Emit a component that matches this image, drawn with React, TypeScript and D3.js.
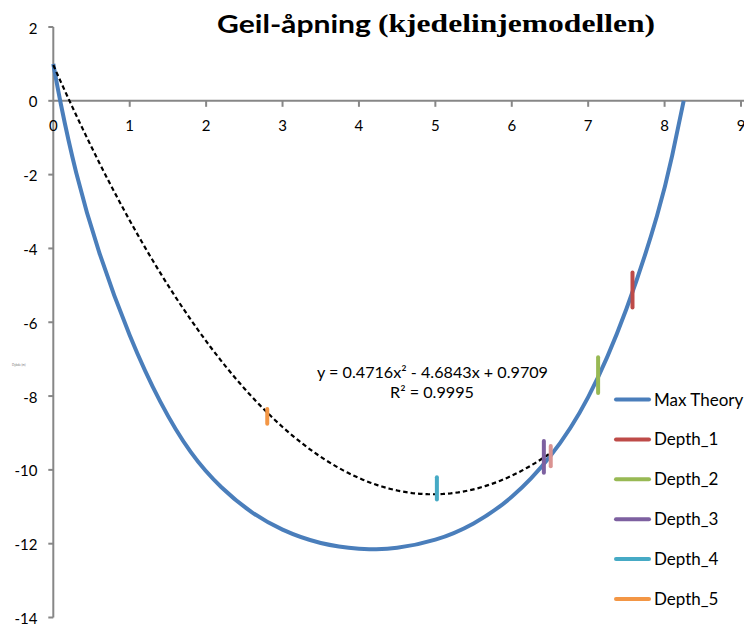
import React from "react";
import * as d3 from "d3";

// ---- data ----
const xTicks = [0, 1, 2, 3, 4, 5, 6, 7, 8, 9];
const yTicks = [2, 0, -2, -4, -6, -8, -10, -12, -14];

const theoryX = [0, 0.1, 0.3, 0.6, 1.0, 1.4, 1.8, 2.2, 2.6, 3.0, 3.5, 4.0, 4.2, 4.5, 5.0, 5.5, 6.0, 6.5, 7.0, 7.5, 7.9, 8.1, 8.25];
const theoryY = [1.0, -0.1, -1.95, -4.1, -6.35, -8.15, -9.52, -10.47, -11.15, -11.62, -11.98, -12.14, -12.15, -12.11, -11.89, -11.45, -10.73, -9.64, -8.03, -5.64, -3.12, -1.48, 0];

const depthNames = ["Depth_1", "Depth_2", "Depth_3", "Depth_4", "Depth_5", "Depth_6"];
const depthX = [7.58, 7.13, 6.42, 5.02, 2.8, 6.51];
const depthTop = [-4.65, -6.95, -9.22, -10.2, -8.35, -9.35];
const depthBottom = [-5.6, -7.92, -10.08, -10.8, -8.75, -9.9];
const depthColors = ["#BE4B48", "#98B954", "#7D60A0", "#46AAC5", "#F39645", "#DA9391"];

// trendline shown in chart: y = 0.4716x² - 4.6843x + 0.9709, R² = 0.9995
const trendCoef = [0.4716, -4.6843, 0.9709];
const trendRange = [0, 6.5];

const legendNames = ["Max Theory", "Depth_1", "Depth_2", "Depth_3", "Depth_4", "Depth_5"];
const legendColors = ["#4A7EBB", "#BE4B48", "#98B954", "#7D60A0", "#46AAC5", "#F39645"];

const FONT = "Lato, 'Liberation Sans', sans-serif";

export default function App() {
  const x = d3.scaleLinear().domain([0, 9]).range([53.3, 741]);
  const y = d3.scaleLinear().domain([2, -14]).range([27, 617.5]);

  const theoryPts: [number, number][] = theoryX.map((v, i) => [v, theoryY[i]]);
  const theoryLine = d3
    .line<[number, number]>()
    .x((d) => x(d[0]))
    .y((d) => y(d[1]))
    .curve(d3.curveNatural)(theoryPts);

  const trendPts: [number, number][] = d3
    .range(trendRange[0], trendRange[1] + 1e-9, 0.05)
    .map((t) => [t, trendCoef[0] * t * t + trendCoef[1] * t + trendCoef[2]]);
  const trendLine = d3
    .line<[number, number]>()
    .x((d) => x(d[0]))
    .y((d) => y(d[1]))(trendPts);

  const axisColor = "#878787";

  return (
    <svg
      width={744}
      height={628}
      style={{ position: "absolute", left: 0, top: 0, display: "block", background: "#fff" }}
    >
      {/* title */}
      <text
        x={217}
        y={32.5}
        fontFamily={FONT}
        fontWeight={700}
        fontSize={25}
        textLength={154}
        lengthAdjust="spacingAndGlyphs"
        fill="#000"
      >
        Geil-åpning
      </text>
      <text
        x={378}
        y={32}
        fontFamily="'Liberation Serif', 'Times New Roman', serif"
        fontWeight={700}
        fontSize={26}
        textLength={277}
        lengthAdjust="spacingAndGlyphs"
        fill="#000"
      >
        (kjedelinjemodellen)
      </text>

      {/* tiny axis title */}
      <text x={12} y={366} fontFamily={FONT} fontSize={3} fill="#777">
        Dybde (m)
      </text>

      {/* y axis */}
      <line x1={x(0)} x2={x(0)} y1={y(2)} y2={y(-14)} stroke={axisColor} strokeWidth={2} />
      {yTicks.map((t) => (
        <g key={"yt" + t}>
          <line x1={x(0) - 5} x2={x(0)} y1={y(t)} y2={y(t)} stroke={axisColor} strokeWidth={2} />
          <text
            x={37.5}
            y={y(t) + 6.5}
            textAnchor="end"
            fontFamily={FONT}
            fontSize={15}
            fill="#000"
          >
            {t}
          </text>
        </g>
      ))}

      {/* x axis */}
      <line x1={x(0)} x2={744} y1={y(0)} y2={y(0)} stroke={axisColor} strokeWidth={2} />
      {xTicks.map((t) => (
        <g key={"xt" + t}>
          {t > 0 && (
            <line x1={x(t)} x2={x(t)} y1={y(0)} y2={y(0) + 6} stroke={axisColor} strokeWidth={2} />
          )}
          <text
            x={x(t)}
            y={y(0) + 30.5}
            textAnchor="middle"
            fontFamily={FONT}
            fontSize={15}
            fill="#000"
          >
            {t}
          </text>
        </g>
      ))}

      {/* max theory curve */}
      <path d={theoryLine || ""} fill="none" stroke="#4A7EBB" strokeWidth={4} strokeLinejoin="round" />

      {/* trendline */}
      <path d={trendLine || ""} fill="none" stroke="#000" strokeWidth={2.2} strokeDasharray="4.5 3" />

      {/* depth segments */}
      {depthNames.map((n, i) => (
        <line
          key={n}
          x1={x(depthX[i])}
          x2={x(depthX[i])}
          y1={y(depthTop[i])}
          y2={y(depthBottom[i])}
          stroke={depthColors[i]}
          strokeWidth={4}
          strokeLinecap="round"
        />
      ))}

      {/* trend equation */}
      <text
        x={432.5}
        y={378}
        textAnchor="middle"
        fontFamily={FONT}
        fontSize={15}
        textLength={231}
        lengthAdjust="spacingAndGlyphs"
        fill="#000"
      >
        y = 0.4716x² - 4.6843x + 0.9709
      </text>
      <text
        x={432}
        y={397.5}
        textAnchor="middle"
        fontFamily={FONT}
        fontSize={15}
        textLength={84}
        lengthAdjust="spacingAndGlyphs"
        fill="#000"
      >
        R² = 0.9995
      </text>

      {/* legend */}
      {legendNames.map((n, i) => {
        const ly = 399.5 + i * 39.9;
        return (
          <g key={"lg" + n}>
            <line
              x1={616}
              x2={649}
              y1={ly}
              y2={ly}
              stroke={legendColors[i]}
              strokeWidth={4}
              strokeLinecap="round"
            />
            <text x={654} y={ly + 6} fontFamily={FONT} fontSize={17} fill="#000">
              {n}
            </text>
          </g>
        );
      })}
    </svg>
  );
}
